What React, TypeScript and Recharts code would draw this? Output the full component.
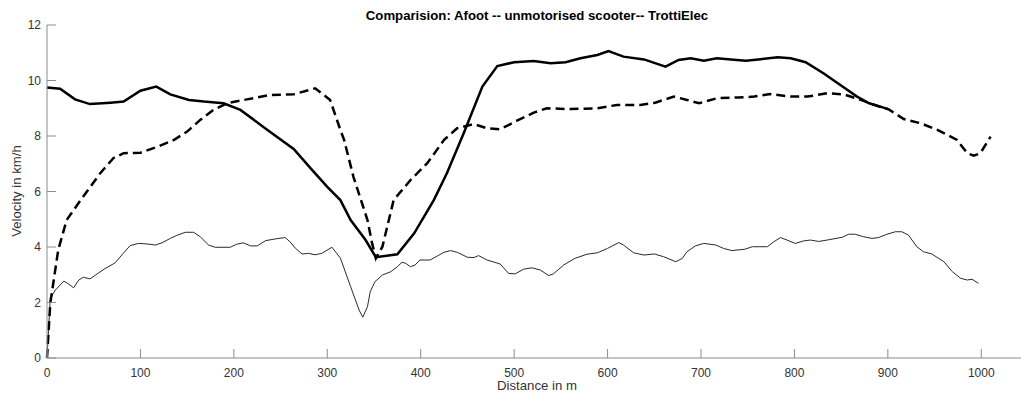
import React from "react";
import { LineChart, Line, XAxis, YAxis } from "recharts";

const xTicks = [0, 100, 200, 300, 400, 500, 600, 700, 800, 900, 1000];
const yTicks = [0, 2, 4, 6, 8, 10, 12];

const afootDist = [0, 3.5, 9, 18, 23, 28.5, 34, 39, 46, 52, 61, 73, 80, 89, 98, 107, 116, 123, 132, 139, 148, 157, 164, 173, 180, 196, 203, 210, 218, 225, 234, 246, 255, 260, 266, 273, 280, 287, 294, 305, 314, 325, 334, 338, 343, 346, 351, 359, 368, 375, 380, 384, 389, 394, 399, 410, 418, 425, 432, 439, 450, 457, 462, 471, 485, 494, 501, 510, 519, 528, 537, 542, 553, 565, 578, 589, 600, 612, 617, 628, 639, 650, 660, 673, 680, 685, 694, 703, 716, 724, 733, 747, 755, 771, 778, 785, 792, 801, 810, 817, 826, 835, 851, 858, 865, 874, 883, 890, 899, 908, 915, 922, 931, 938, 947, 960, 969, 978, 985, 990, 997];
const afootVel = [0, 2.15, 2.45, 2.77, 2.67, 2.53, 2.81, 2.91, 2.85, 2.99, 3.2, 3.43, 3.71, 4.05, 4.13, 4.11, 4.07, 4.15, 4.31, 4.42, 4.53, 4.53, 4.37, 4.07, 3.99, 3.99, 4.1, 4.15, 4.04, 4.04, 4.23, 4.3, 4.34, 4.19, 3.95, 3.75, 3.77, 3.72, 3.77, 3.99, 3.6, 2.57, 1.73, 1.47, 1.85, 2.39, 2.75, 2.99, 3.11, 3.29, 3.45, 3.41, 3.29, 3.35, 3.53, 3.53, 3.68, 3.81, 3.87, 3.81, 3.63, 3.62, 3.69, 3.53, 3.39, 3.05, 3.03, 3.2, 3.25, 3.17, 2.97, 3.03, 3.35, 3.59, 3.74, 3.79, 3.95, 4.16, 4.07, 3.79, 3.71, 3.75, 3.65, 3.47, 3.59, 3.83, 4.04, 4.13, 4.07, 3.95, 3.87, 3.92, 4.01, 4.01, 4.19, 4.34, 4.25, 4.13, 4.22, 4.25, 4.2, 4.25, 4.35, 4.46, 4.46, 4.37, 4.31, 4.34, 4.46, 4.55, 4.55, 4.43, 4.01, 3.83, 3.75, 3.47, 3.11, 2.87, 2.81, 2.84, 2.69];

const scooterDist = [0, 3.5, 12, 21, 36, 57, 71, 82, 100, 118, 136, 150, 164, 178, 193, 214, 239, 264, 287, 303, 314, 318, 328, 343, 348, 352, 359, 365, 371, 389, 407, 425, 439, 457, 471, 485, 503, 521, 535, 560, 589, 610, 635, 651, 671, 685, 698, 717, 740, 757, 774, 796, 814, 835, 853, 871, 889, 901, 917, 935, 953, 974, 985, 992, 999, 1010];
const scooterVel = [0, 1.97, 3.89, 4.97, 5.69, 6.66, 7.2, 7.38, 7.4, 7.61, 7.86, 8.16, 8.58, 8.94, 9.18, 9.32, 9.48, 9.5, 9.72, 9.3, 8.22, 7.86, 6.53, 4.97, 4.13, 3.59, 4.01, 4.85, 5.69, 6.41, 7.02, 7.86, 8.28, 8.43, 8.28, 8.24, 8.55, 8.84, 9.0, 8.97, 9.0, 9.12, 9.12, 9.2, 9.42, 9.3, 9.18, 9.36, 9.39, 9.42, 9.51, 9.42, 9.42, 9.54, 9.5, 9.3, 9.08, 8.96, 8.61, 8.46, 8.22, 7.86, 7.38, 7.29, 7.38, 7.98];

const elecDist = [0, 14, 30, 46, 68, 82, 100, 117, 132, 152, 168, 189, 207, 236, 264, 282, 300, 314, 325, 341, 352, 375, 393, 414, 428, 446, 466, 482, 500, 521, 539, 555, 571, 589, 601, 617, 639, 662, 676, 689, 703, 717, 732, 748, 764, 782, 796, 812, 831, 853, 867, 880, 892, 901];
const elecVel = [9.75, 9.7, 9.32, 9.15, 9.2, 9.24, 9.63, 9.78, 9.5, 9.3, 9.24, 9.18, 8.94, 8.22, 7.53, 6.84, 6.17, 5.69, 4.97, 4.25, 3.63, 3.74, 4.49, 5.69, 6.66, 8.1, 9.78, 10.52, 10.66, 10.7, 10.62, 10.66, 10.8, 10.92, 11.06, 10.86, 10.76, 10.5, 10.74, 10.8, 10.71, 10.8, 10.76, 10.71, 10.77, 10.84, 10.8, 10.66, 10.26, 9.75, 9.42, 9.18, 9.06, 8.96];

const zip = (d: number[], v: number[]) => d.map((x, i) => ({ d: x, v: v[i] }));
const afootData = zip(afootDist, afootVel);
const scooterData = zip(scooterDist, scooterVel);
const elecData = zip(elecDist, elecVel);

const FONT = "'Liberation Sans', Arial, Helvetica, sans-serif";
const AXIS = "#8c8c8c";
const TXT = "#333333";

export default function App() {
  return (
    <div
      style={{
        position: "fixed",
        left: 0,
        top: 0,
        width: 1021,
        height: 394,
        overflow: "hidden",
        background: "#ffffff",
        fontFamily: FONT,
      }}
    >
      <LineChart
        width={1030}
        height={394}
        margin={{ top: 25, right: 2, bottom: 0, left: 0 }}
        style={{ fontFamily: FONT }}
      >
        <XAxis
          xAxisId="b"
          dataKey="d"
          type="number"
          domain={[0, 1050]}
          ticks={xTicks}
          interval={0}
          height={36}
          tickSize={-9}
          tickMargin={19}
          stroke={AXIS}
          tick={{ fill: TXT, fontSize: 12, fontFamily: FONT }}
          tickLine={{ stroke: AXIS }}
          axisLine={{ stroke: AXIS }}
        />
        <XAxis
          xAxisId="t"
          orientation="top"
          dataKey="d"
          type="number"
          domain={[0, 1050]}
          ticks={xTicks}
          interval={0}
          height={0}
          tickSize={-9}
          tickFormatter={() => ""}
          stroke={AXIS}
          tickLine={{ stroke: AXIS }}
          axisLine={{ stroke: AXIS }}
        />
        <YAxis
          yAxisId="l"
          type="number"
          domain={[0, 12]}
          ticks={yTicks}
          interval={0}
          width={47}
          tickSize={-9}
          tickMargin={15}
          stroke={AXIS}
          tick={{ fill: TXT, fontSize: 12, fontFamily: FONT }}
          tickLine={{ stroke: AXIS }}
          axisLine={{ stroke: AXIS }}
        />
        <YAxis
          yAxisId="r"
          orientation="right"
          type="number"
          domain={[0, 12]}
          ticks={yTicks}
          interval={0}
          width={0}
          tickSize={-9}
          tickFormatter={() => ""}
          stroke={AXIS}
          tickLine={{ stroke: AXIS }}
          axisLine={{ stroke: AXIS }}
        />
        <Line
          xAxisId="b"
          yAxisId="l"
          data={afootData}
          dataKey="v"
          type="linear"
          stroke="#2a2a2a"
          strokeWidth={1}
          dot={false}
          activeDot={false}
          isAnimationActive={false}
        />
        <Line
          xAxisId="b"
          yAxisId="l"
          data={scooterData}
          dataKey="v"
          type="linear"
          stroke="#000000"
          strokeWidth={2.5}
          strokeDasharray="9 5"
          dot={false}
          activeDot={false}
          isAnimationActive={false}
        />
        <Line
          xAxisId="b"
          yAxisId="l"
          data={elecData}
          dataKey="v"
          type="linear"
          stroke="#000000"
          strokeWidth={2.5}
          dot={false}
          activeDot={false}
          isAnimationActive={false}
        />
      </LineChart>
      <div
        style={{
          position: "absolute",
          left: 0,
          width: 1074,
          top: 8,
          textAlign: "center",
          fontWeight: "bold",
          fontSize: 13.2,
          lineHeight: "16px",
          color: "#000",
          whiteSpace: "nowrap",
        }}
      >
        Comparision: Afoot -- unmotorised scooter-- TrottiElec
      </div>
      <div
        style={{
          position: "absolute",
          left: 0,
          width: 1074,
          top: 378,
          textAlign: "center",
          fontSize: 13.2,
          lineHeight: "15px",
          color: TXT,
          whiteSpace: "nowrap",
        }}
      >
        Distance in m
      </div>
      <div
        style={{
          position: "absolute",
          left: 17,
          top: 191,
          transform: "translate(-50%, -50%) rotate(-90deg)",
          fontSize: 13.2,
          lineHeight: "16px",
          color: TXT,
          whiteSpace: "nowrap",
        }}
      >
        Velocity in km/h
      </div>
    </div>
  );
}
